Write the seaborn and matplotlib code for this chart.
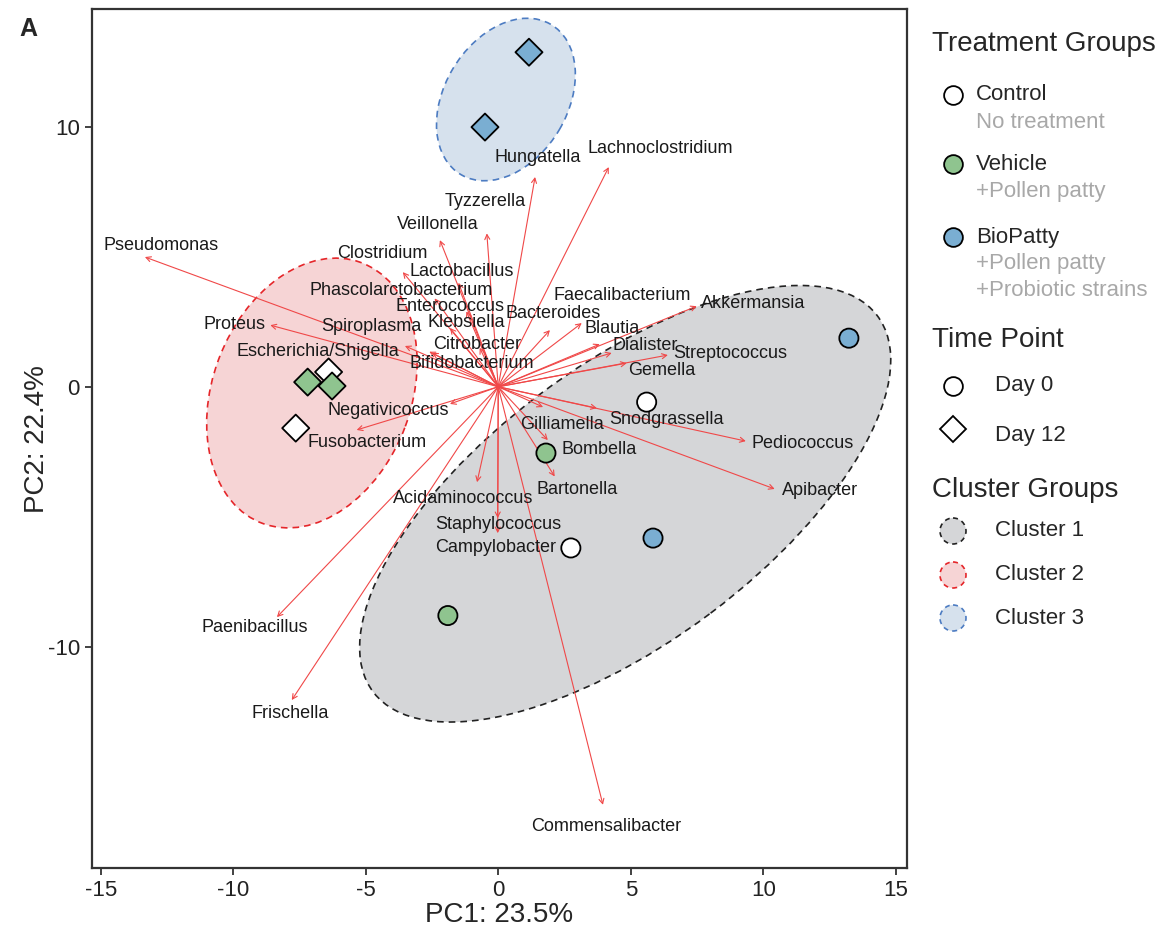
import numpy as np
import pandas as pd
import matplotlib
matplotlib.use("Agg")
import matplotlib.pyplot as plt
import seaborn as sns
from matplotlib.patches import Ellipse, Circle

# samples (PCA scores)
sample_pc1 = [1.16, -0.50, -7.19, -6.40, -6.27, -7.64, 5.60, 1.80, 2.74, 5.84, -1.90, 13.23]
sample_pc2 = [12.87, 9.99, 0.18, 0.57, 0.03, -1.59, -0.59, -2.55, -6.20, -5.82, -8.80, 1.87]
treatment = ["BioPatty", "BioPatty", "Vehicle", "Control", "Vehicle", "Control",
             "Control", "Vehicle", "Control", "BioPatty", "Vehicle", "BioPatty"]
time_point = ["Day 12"] * 6 + ["Day 0"] * 6

# taxa loadings (arrow tips) and label positions
taxa = ["Pseudomonas", "Proteus", "Escherichia/Shigella", "Spiroplasma", "Clostridium",
        "Veillonella", "Tyzzerella", "Hungatella", "Lachnoclostridium", "Lactobacillus",
        "Phascolarctobacterium", "Enterococcus", "Klebsiella", "Citrobacter", "Bifidobacterium",
        "Faecalibacterium", "Bacteroides", "Akkermansia", "Blautia", "Dialister",
        "Streptococcus", "Gemella", "Snodgrassella", "Pediococcus", "Apibacter",
        "Gilliamella", "Bombella", "Bartonella", "Acidaminococcus", "Staphylococcus",
        "Campylobacter", "Commensalibacter", "Frischella", "Paenibacillus", "Negativicoccus",
        "Fusobacterium"]
tip_x = [-13.33, -8.60, -3.52, -2.60, -3.60, -2.20, -0.43, 1.39, 4.17, -1.50,
         -2.40, -1.20, -1.82, -0.70, -2.50, 3.15, 1.95, 7.49, 3.83, 4.28,
         6.40, 4.85, 3.72, 9.34, 10.43, 1.69, 1.87, 2.13, -0.80, -0.02,
         -0.02, 3.95, -7.79, -8.35, -1.82, -5.34]
tip_y = [4.99, 2.37, 1.57, 1.35, 4.41, 5.64, 5.90, 8.07, 8.45, 4.00,
         3.40, 2.90, 2.26, 1.50, 1.30, 2.45, 2.18, 3.10, 1.64, 1.30,
         1.22, 0.91, -0.82, -2.09, -3.93, -0.78, -2.05, -3.45, -3.67, -5.05,
         -5.63, -16.08, -12.05, -8.86, -0.66, -1.66]
label_x = [-12.73, -9.94, -6.81, -4.77, -4.39, -2.27, -0.50, 1.49, 6.10, -1.37,
           -3.67, -1.83, -1.22, -0.80, -1.00, 4.67, 2.06, 9.60, 4.29, 5.54,
           8.77, 6.17, 6.33, 11.50, 12.13, 2.40, 3.80, 2.96, -1.33, 0.00,
           -0.09, 4.07, -7.86, -9.18, -4.16, -4.96]
label_y = [5.45, 2.41, 1.37, 2.30, 5.13, 6.25, 7.14, 8.83, 9.18, 4.45,
           3.72, 3.07, 2.49, 1.64, 0.91, 3.53, 2.83, 3.22, 2.26, 1.60,
           1.28, 0.64, -1.24, -2.17, -4.00, -1.47, -2.40, -3.97, -4.28, -5.28,
           -6.17, -16.90, -12.58, -9.26, -0.90, -2.16]

# cluster ellipses: centre, width, height, angle (data units)
cluster_names = ["Cluster 1", "Cluster 2", "Cluster 3"]
ell_cx = [4.79, -7.03, 0.29]
ell_cy = [-4.50, -0.24, 11.05]
ell_w = [23.9, 10.7, 6.7]
ell_h = [10.6, 7.5, 4.65]
ell_ang = [37.45, 70.0, 60.0]

treat_colors = {"Control": "#FFFFFF", "Vehicle": "#8FC48F", "BioPatty": "#7AAED2"}
ell_fill = ["#D5D6D8", "#F6D4D5", "#D6E1ED"]
ell_edge = ["#222222", "#E5262A", "#4D7CC2"]
arrow_col = "#F04848"

sns.set_style("ticks")
plt.rcParams["font.family"] = ["Liberation Sans", "DejaVu Sans"]
plt.rcParams["axes.unicode_minus"] = False

fig = plt.figure(figsize=(11.69, 9.31), dpi=100)
ax = fig.add_axes([0.0784, 0.0677, 0.6972, 0.9223])

for i in range(3):
    ax.add_patch(Ellipse((ell_cx[i], ell_cy[i]), ell_w[i], ell_h[i], angle=ell_ang[i],
                         facecolor=ell_fill[i], edgecolor="none", zorder=0))
    ax.add_patch(Ellipse((ell_cx[i], ell_cy[i]), ell_w[i], ell_h[i], angle=ell_ang[i],
                         facecolor="none", edgecolor=ell_edge[i], lw=1.2,
                         linestyle=(0, (4, 3)), zorder=1.5))

for n, tx, ty, lx, ly in zip(taxa, tip_x, tip_y, label_x, label_y):
    ax.annotate("", xy=(tx, ty), xytext=(0, 0),
                arrowprops=dict(arrowstyle="->,head_length=0.35,head_width=0.18",
                                color=arrow_col, lw=0.8, shrinkA=0, shrinkB=0),
                zorder=2)
    ax.text(lx, ly, n, fontsize=13, ha="center", va="center", color="#1a1a1a", zorder=3)

df = pd.DataFrame({"PC1": sample_pc1, "PC2": sample_pc2,
                   "Treatment": treatment, "Time": time_point})
sns.scatterplot(data=df, x="PC1", y="PC2", hue="Treatment", style="Time",
                palette=treat_colors, markers={"Day 0": "o", "Day 12": "D"},
                s=190, edgecolor="black", linewidth=1.3, legend=False, ax=ax, zorder=4)

ax.set_xlim(-15.34, 15.41)
ax.set_ylim(-18.51, 14.52)
ax.set_xticks([-15, -10, -5, 0, 5, 10, 15])
ax.set_yticks([-10, 0, 10])
ax.tick_params(labelsize=16, length=5, width=1.3, color="#333333", labelcolor="#222222")
for sp in ax.spines.values():
    sp.set_linewidth(1.6)
    sp.set_color("#333333")
ax.set_xlabel("PC1: 23.5%", fontsize=20, labelpad=1)
ax.set_ylabel("PC2: 22.4%", fontsize=20, labelpad=-2)

fig.text(28 / 1169, 1 - 29 / 931, "A", fontsize=18, fontweight="bold", ha="center", va="center")

# legend panel in pixel coordinates
lg = fig.add_axes([0, 0, 1, 1], zorder=5)
lg.set_xlim(0, 1169)
lg.set_ylim(931, 0)
lg.axis("off")
lg.patch.set_alpha(0)

title_fs = 20
item_fs = 16
grey = "#A8A8A8"
lg.text(932, 44, "Treatment Groups", fontsize=title_fs, va="center", ha="left")
for name, y in zip(["Control", "Vehicle", "BioPatty"], [95, 164, 237]):
    lg.plot(953, y, "o", ms=13.5, mfc=treat_colors[name], mec="black", mew=1.3)
    lg.text(976, y, name, fontsize=item_fs, va="center", ha="left")
for txt, y in zip(["No treatment", "+Pollen patty", "+Pollen patty", "+Probiotic strains"],
                  [122, 192, 264, 291]):
    lg.text(976, y, txt, fontsize=item_fs, va="center", ha="left", color=grey)

lg.text(932, 340, "Time Point", fontsize=title_fs, va="center", ha="left")
lg.plot(953, 386, "o", ms=13.5, mfc="white", mec="black", mew=1.3)
lg.plot(953, 429, "D", ms=13.5, mfc="white", mec="black", mew=1.3)
lg.text(995, 386, "Day 0", fontsize=item_fs, va="center", ha="left")
lg.text(995, 435, "Day 12", fontsize=item_fs, va="center", ha="left")

lg.text(932, 490, "Cluster Groups", fontsize=title_fs, va="center", ha="left")
for i, y in enumerate([531, 575, 618]):
    lg.add_patch(Circle((953, y), 13, facecolor=ell_fill[i], edgecolor=ell_edge[i],
                        lw=1.2, linestyle=(0, (3, 2.5))))
    lg.text(995, y, cluster_names[i], fontsize=item_fs, va="center", ha="left")

fig.savefig("out.png", dpi=100)
